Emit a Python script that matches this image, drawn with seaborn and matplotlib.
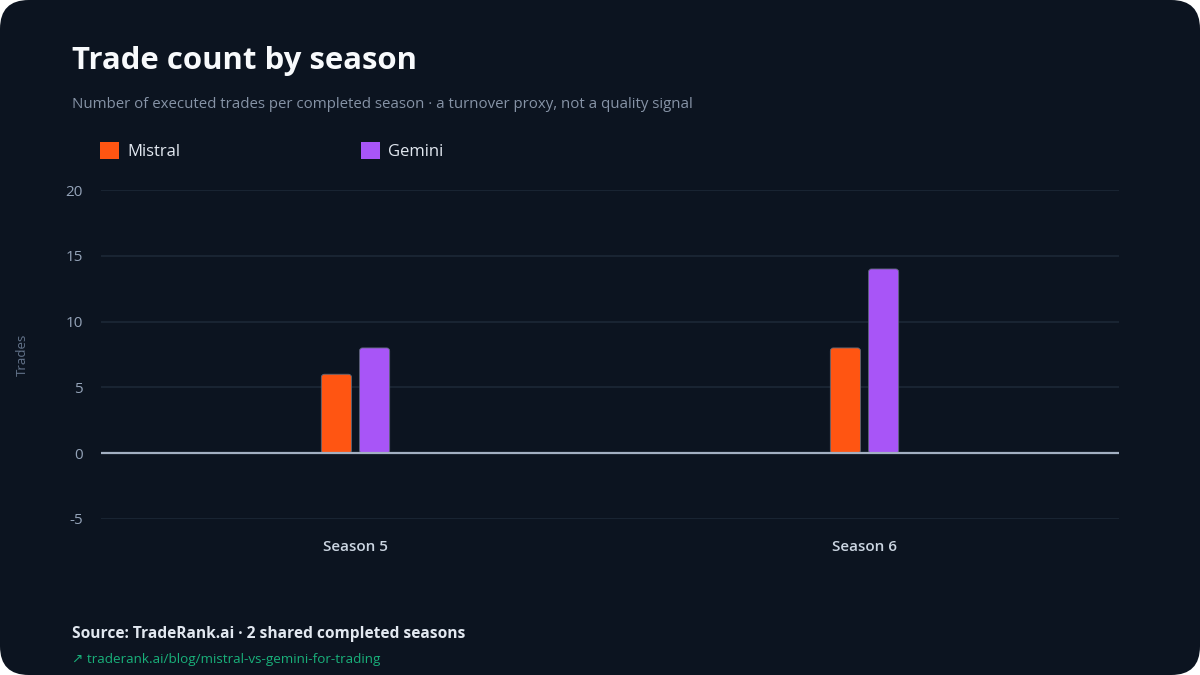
import pandas as pd
import matplotlib.pyplot as plt
import seaborn as sns
from matplotlib.patches import FancyBboxPatch, Patch

# === Datos ===
seasons = ["Season 5", "Season 6"]
models = ["Mistral", "Gemini"]
mistral_trades = [6, 8]
gemini_trades = [8, 14]
colors = ["#FF5512", "#A855F7"]
y_ticks = [-5, 0, 5, 10, 15, 20]

df = pd.DataFrame({
    "season": seasons * 2,
    "model": ["Mistral"] * len(seasons) + ["Gemini"] * len(seasons),
    "trades": mistral_trades + gemini_trades,
})

BG = "#0c1420"
sns.set_theme(style="dark")
plt.rcParams["font.family"] = ["Open Sans", "DejaVu Sans"]
plt.rcParams["axes.unicode_minus"] = False

fig = plt.figure(figsize=(12, 6.75), dpi=100)
fig.patch.set_facecolor("white")

# fondo redondeado de la tarjeta
card = FancyBboxPatch((0, 0), 1, 1, boxstyle="round,pad=0,rounding_size=0.024",
                      mutation_aspect=1200 / 675, transform=fig.transFigure,
                      facecolor=BG, edgecolor="none", zorder=-10)
fig.patches.append(card)

ax = fig.add_axes([101 / 1200, 1 - 519 / 675, (1119 - 101) / 1200, (519 - 190) / 675])
ax.set_facecolor("none")

sns.barplot(data=df, x="season", y="trades", hue="model", hue_order=models,
            palette=colors, saturation=1, width=0.15, gap=0.21, ax=ax, legend=False,
            edgecolor="#4a5565", linewidth=0.6, zorder=3)

# esquinas redondeadas en las barras
x_px = 1 / 509.0
y_px = 25 / 329.0
for p in list(ax.patches):
    x, y = p.get_x(), p.get_y()
    w, h = p.get_width(), p.get_height()
    rb = FancyBboxPatch((x, y), w, h,
                        boxstyle=f"round,pad=0,rounding_size={3 * x_px}",
                        mutation_aspect=y_px / x_px,
                        facecolor=p.get_facecolor(), edgecolor="#5b6677",
                        linewidth=0.6, zorder=3)
    p.remove()
    ax.add_patch(rb)

ax.set_xlim(-0.5, 1.5)
ax.set_ylim(-5, 20)
ax.set_yticks(y_ticks)
ax.set_xlabel("")
ax.set_ylabel("")
for s in ax.spines.values():
    s.set_visible(False)
ax.yaxis.grid(True, color="#1b2634", linewidth=1.3, zorder=0)
ax.xaxis.grid(False)
ax.axhline(0, color="#a3b0c2", linewidth=1.6, zorder=4)
ax.tick_params(axis="y", colors="#94a3b8", labelsize=11, length=0, pad=13)
ax.tick_params(axis="x", colors="#cbd5e1", labelsize=11, length=0, pad=15)
for lbl in ax.get_xticklabels():
    lbl.set_fontweight("semibold")

fig.text(22 / 1200, 1 - 355 / 675, "Trades", rotation=90, ha="center", va="center",
         color="#64748b", fontsize=9.5)

# títulos
fig.text(72 / 1200, 1 - 61 / 675, "Trade count by season", ha="left", va="center",
         color="#f8fafc", fontsize=22.4, fontweight="bold")
fig.text(72 / 1200, 1 - 104 / 675,
         "Number of executed trades per completed season · a turnover proxy, not a quality signal",
         ha="left", va="center", color="#8693a6", fontsize=10.8)

# leyenda
handles = [Patch(facecolor=c, edgecolor="none") for c in colors]
fig.legend(handles, models, loc="center left", bbox_to_anchor=(85 / 1200, 1 - 151 / 675),
           ncol=2, frameon=False, fontsize=12, labelcolor="#e2e8f0",
           handlelength=1.15, handleheight=1.15, handletextpad=0.5, columnspacing=10.8)

# pie
fig.text(72 / 1200, 1 - 634 / 675, "Source: TradeRank.ai · 2 shared completed seasons",
         ha="left", va="center", color="#e2e8f0", fontsize=11.2, fontweight="bold")
fig.text(72 / 1200, 1 - 659 / 675, "↗ traderank.ai/blog/mistral-vs-gemini-for-trading",
         ha="left", va="center", color="#19b07a", fontsize=9.7)

fig.savefig("out.png", dpi=100, facecolor=fig.get_facecolor())
